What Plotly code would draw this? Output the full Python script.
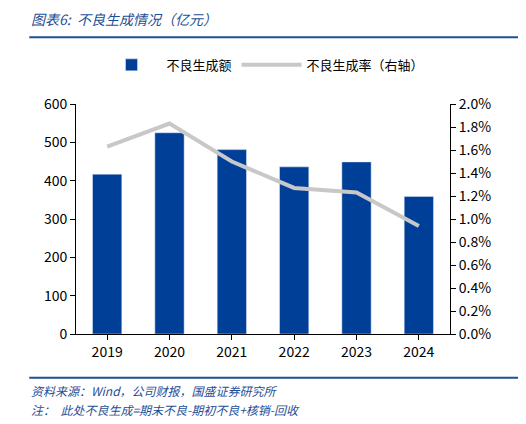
import plotly.graph_objects as go

years = ["2019", "2020", "2021", "2022", "2023", "2024"]
npl_new = [417, 525, 481, 436, 449, 359]
npl_rate = [0.0163, 0.0183, 0.0150, 0.0127, 0.0123, 0.0094]

font = "Noto Sans CJK SC"
fig = go.Figure()
fig.add_trace(go.Bar(x=years, y=npl_new, name="不良生成额", marker_color="#003f98", width=0.47))
fig.add_trace(go.Scatter(x=years, y=npl_rate, name="不良生成率（右轴）", yaxis="y2",
                         mode="lines", line=dict(color="#c8c8c8", width=4)))

fig.update_layout(
    width=526, height=424, margin=dict(l=68, r=84, t=96, b=98),
    paper_bgcolor="white", plot_bgcolor="white",
    font=dict(family=font, size=14, color="black"),
    legend=dict(orientation="h", x=0.5, xanchor="center", y=1.17, yanchor="middle",
                font=dict(size=13), itemwidth=60),
    xaxis=dict(showline=True, linecolor="black", ticks="outside", tickcolor="black"),
    yaxis=dict(range=[0, 600], dtick=100, showgrid=False, showline=True, linecolor="black",
               ticks="outside", tickcolor="black"),
    yaxis2=dict(range=[0, 0.02], dtick=0.002, tickformat=".1%", overlaying="y", side="right",
                showgrid=False, showline=True, linecolor="black", ticks="outside", tickcolor="black"),
    shapes=[
        dict(type="line", xref="paper", yref="paper", x0=-0.125, x1=1.2, y0=1.29, y1=1.29,
             line=dict(color="#1f4e96", width=2)),
        dict(type="line", xref="paper", yref="paper", x0=-0.125, x1=1.2, y0=-0.19, y1=-0.19,
             line=dict(color="#1f4e96", width=2)),
    ],
    annotations=[
        dict(text="<i>图表6:  不良生成情况（亿元）</i>", xref="paper", yref="paper", x=-0.125, y=1.37,
             xanchor="left", yanchor="middle", showarrow=False, font=dict(size=14, color="#1f4e96")),
        dict(text="<i>资料来源：Wind，公司财报，国盛证券研究所</i>", xref="paper", yref="paper", x=-0.125, y=-0.245,
             xanchor="left", yanchor="middle", showarrow=False, font=dict(size=12, color="#1f4e96")),
        dict(text="<i>注：  此处不良生成=期末不良-期初不良+核销-回收</i>", xref="paper", yref="paper", x=-0.125, y=-0.33,
             xanchor="left", yanchor="middle", showarrow=False, font=dict(size=12, color="#1f4e96")),
    ],
)
fig.write_html("out.html")
